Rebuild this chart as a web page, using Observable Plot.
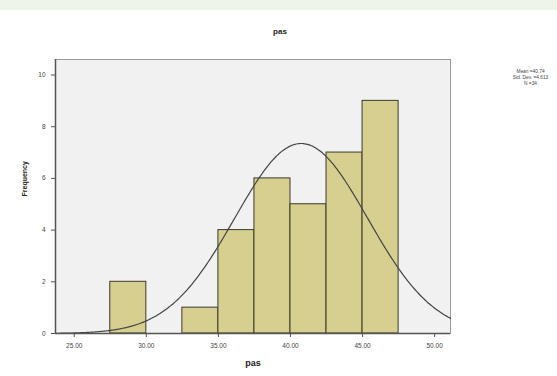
<!DOCTYPE html>
<html>
<head>
<meta charset="utf-8">
<script src="https://cdn.jsdelivr.net/npm/d3@7"></script>
<script src="https://cdn.jsdelivr.net/npm/@observablehq/plot@0.6"></script>
<style>
  html, body { margin: 0; padding: 0; background: #fff; }
  #wrap { position: relative; width: 557px; height: 376px; overflow: hidden; }
  #band { position: absolute; left: 0; top: 0; width: 557px; height: 10px; background: #eef5e8; }
  #chart { position: absolute; left: 0; top: 0; }
</style>
</head>
<body>
<div id="wrap"><div id="band"></div><div id="chart"></div></div>
<script>
// Histogram bins (lower edge, upper edge) and frequencies
const binStart = [27.5, 30.0, 32.5, 35.0, 37.5, 40.0, 42.5, 45.0];
const binEnd   = [30.0, 32.5, 35.0, 37.5, 40.0, 42.5, 45.0, 47.5];
const counts   = [2, 0, 1, 4, 6, 5, 7, 9];
// Summary statistics (legend)
const statMean = 40.74;
const statSD = 4.613;
const statN = 34;
const xTicks = [25, 30, 35, 40, 45, 50];
const yTicks = [0, 2, 4, 6, 8, 10];
const legendLines = ["Mean =40.74", "Std. Dev. =4.613", "N =34"];

const bins = binStart.map((s, i) => ({x1: s, x2: binEnd[i], y: counts[i]})).filter(d => d.y > 0);
const binW = binEnd[0] - binStart[0];
const xDomain = [23.7, 51.1];
// fitted normal curve, as SPSS draws it from mean, SD and N
const curve = d3.range(xDomain[0], xDomain[1] + 0.001, 0.1).map(x => ({
  x,
  y: statN * binW / (statSD * Math.sqrt(2 * Math.PI)) * Math.exp(-0.5 * ((x - statMean) / statSD) ** 2)
}));

const font = "Liberation Sans, Arial, sans-serif";
const plot = Plot.plot({
  width: 557,
  height: 376,
  marginLeft: 55,
  marginRight: 107,
  marginTop: 59,
  marginBottom: 43,
  style: {fontFamily: font, fontSize: "6px", color: "#333", background: "transparent", overflow: "visible"},
  x: {domain: xDomain, label: null},
  y: {domain: [0, 10.6], label: null},
  marks: [
    Plot.frame({fill: "#f1f1f1", stroke: "#9a9a9a", strokeWidth: 1}),
    Plot.rect(bins, {x1: "x1", x2: "x2", y1: 0, y2: "y", fill: "#d6cf8f", stroke: "#3a3a2a", strokeWidth: 1}),
    Plot.line(curve, {x: "x", y: "y", stroke: "#444", strokeWidth: 1.2, curve: "basis"}),
    Plot.axisX({ticks: xTicks, tickFormat: d => d.toFixed(2), tickSize: 4, tickPadding: 6, stroke: "#555", fill: "#444", fontSize: 6.5}),
    Plot.axisY({ticks: yTicks, tickFormat: d => String(d), tickSize: 4, tickPadding: 6, stroke: "#555", fill: "#444", fontSize: 6.5}),
    Plot.ruleY([0], {stroke: "#555", strokeWidth: 1.5}),
    Plot.ruleX([xDomain[0]], {stroke: "#555", strokeWidth: 1.5}),
    Plot.text(["pas"], {frameAnchor: "bottom", dy: 32, fontSize: 9, fontWeight: "bold", fill: "#222"}),
    Plot.text(["Frequency"], {frameAnchor: "left", dx: -31, rotate: -90, fontSize: 7, fontWeight: "bold", fill: "#222"}),
    Plot.text(["pas"], {frameAnchor: "top", dx: 27, dy: -31, fontSize: 8, fontWeight: "bold", fill: "#222"}),
    Plot.text([legendLines.join("\n")], {frameAnchor: "top-right", dx: 80, dy: 9, textAnchor: "middle", lineAnchor: "top", lineHeight: 1.3, fontSize: 4.8, fill: "#444", clip: false})
  ]
});
document.getElementById("chart").appendChild(plot);
</script>
</body>
</html>
